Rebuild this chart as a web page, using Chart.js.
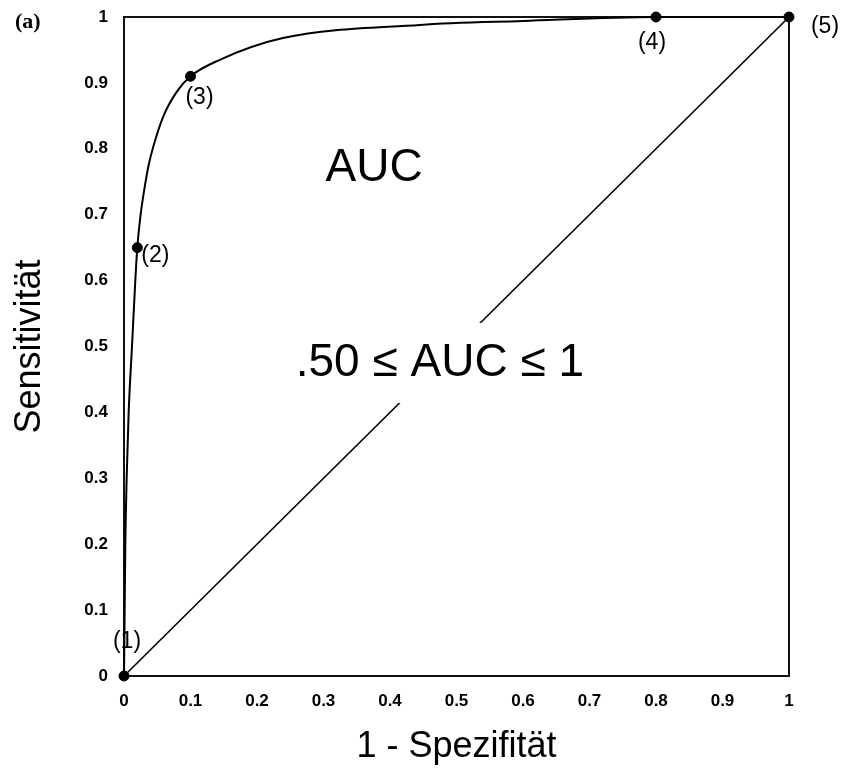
<!DOCTYPE html>
<html lang="de">
<head>
  <meta charset="UTF-8">
  <title>ROC-Kurve</title>
  <script src="https://cdn.jsdelivr.net/npm/chart.js"></script>
  <style>
    body {
      margin: 0;
      background: #fff;
    }
    #wrap {
      width: 841px;
      height: 769px;
      position: relative;
    }
  </style>
</head>
<body>
  <div id="wrap"><canvas id="rocChart" width="841" height="769"></canvas></div>

  <script>
    // ROC-Kurve
    const rocX = [0, 0.001, 0.002, 0.004, 0.007, 0.012, 0.017, 0.02, 0.025, 0.03, 0.037, 0.044, 0.059, 0.079, 0.1, 0.144, 0.239, 0.445, 0.6, 0.8, 1];
    const rocY = [0, 0.1, 0.2, 0.3, 0.4, 0.5, 0.6, 0.65, 0.7, 0.735, 0.775, 0.803, 0.849, 0.886, 0.91, 0.935, 0.968, 0.988, 0.994, 1, 1];

    // markierte Schwellenwerte (1)..(5)
    const cutX = [0, 0.02, 0.1, 0.8, 1];
    const cutY = [0, 0.65, 0.91, 1, 1];
    const cutLabels = ["(1)", "(2)", "(3)", "(4)", "(5)"];

    // Zufallsdiagonale
    const diagX = [0, 1];
    const diagY = [0, 1];

    const tickLabels = ["0", "0.1", "0.2", "0.3", "0.4", "0.5", "0.6", "0.7", "0.8", "0.9", "1"];
    const xTitle = "1 - Spezifität";
    const yTitle = "Sensitivität";
    const panelLabel = "(a)";
    const aucText = "AUC";
    const aucRange = ".50 \u2264 AUC \u2264 1";

    const toPoints = (xs, ys) => xs.map((x, i) => ({ x: x, y: ys[i] }));

    Chart.defaults.font.family = "'Liberation Sans', Arial, sans-serif";
    Chart.defaults.color = "#000";

    // Rahmen um die Zeichenfläche
    const framePlugin = {
      id: "frame",
      beforeDatasetsDraw(chart) {
        const { ctx, chartArea: a } = chart;
        ctx.save();
        ctx.strokeStyle = "#111";
        ctx.lineWidth = 2;
        ctx.strokeRect(a.left, a.top, a.right - a.left, a.bottom - a.top);
        ctx.restore();
      }
    };

    // Beschriftungen: Punktnummern, AUC-Texte, (a)
    const textPlugin = {
      id: "texts",
      afterDatasetsDraw(chart) {
        const { ctx, scales: { x, y } } = chart;
        const offsets = [[3, -34], [18, 8], [9, 21], [-4, 26], [36, 10]];
        ctx.save();
        ctx.fillStyle = "#000";
        ctx.textAlign = "center";
        ctx.textBaseline = "middle";
        ctx.font = "23px 'Liberation Sans', Arial, sans-serif";
        cutLabels.forEach((lab, i) => {
          ctx.fillText(lab, x.getPixelForValue(cutX[i]) + offsets[i][0], y.getPixelForValue(cutY[i]) + offsets[i][1]);
        });

        ctx.font = "46px 'Liberation Sans', Arial, sans-serif";
        ctx.fillText(aucText, x.getPixelForValue(0.376), y.getPixelForValue(0.771));

        const cx = x.getPixelForValue(0.475);
        const cy = y.getPixelForValue(0.475);
        const w = ctx.measureText(aucRange).width;
        ctx.fillStyle = "#fff";
        ctx.fillRect(cx - w / 2, cy - 40, w, 80);
        ctx.fillStyle = "#000";
        ctx.fillText(aucRange, cx, cy);

        ctx.textAlign = "left";
        ctx.font = "bold 22px 'Liberation Serif', 'Times New Roman', serif";
        ctx.fillText(panelLabel, 15, 22);
        ctx.restore();
      }
    };

    const tickFont = { size: 17, weight: "bold" };

    new Chart(document.getElementById("rocChart"), {
      type: "scatter",
      data: {
        datasets: [
          {
            label: "Diagonale",
            data: toPoints(diagX, diagY),
            showLine: true,
            borderColor: "#000",
            borderWidth: 1.6,
            pointRadius: 0,
            clip: false
          },
          {
            label: "ROC",
            data: toPoints(rocX, rocY),
            showLine: true,
            cubicInterpolationMode: "monotone",
            borderColor: "#000",
            borderWidth: 2,
            pointRadius: 0,
            clip: false
          },
          {
            label: "Schwellen",
            data: toPoints(cutX, cutY),
            showLine: false,
            pointRadius: 5,
            backgroundColor: "#000",
            borderColor: "#000",
            clip: false
          }
        ]
      },
      options: {
        responsive: false,
        animation: false,
        layout: { padding: { left: 0, right: 52, top: 17, bottom: 0 } },
        plugins: {
          legend: { display: false },
          tooltip: { enabled: false }
        },
        scales: {
          x: {
            type: "linear",
            min: 0,
            max: 1,
            grid: { display: false, drawTicks: false },
            border: { display: false },
            ticks: {
              stepSize: 0.1,
              padding: 15,
              maxRotation: 0,
              font: tickFont,
              callback: (v, i) => tickLabels[i]
            },
            title: {
              display: true,
              text: xTitle,
              font: { size: 36 },
              padding: { top: -3, bottom: 0 }
            },
            afterFit: (s) => { s.height = 93; }
          },
          y: {
            type: "linear",
            min: 0,
            max: 1,
            grid: { display: false, drawTicks: false },
            border: { display: false },
            ticks: {
              stepSize: 0.1,
              padding: 16,
              font: tickFont,
              callback: (v, i) => tickLabels[i]
            },
            title: {
              display: true,
              text: yTitle,
              font: { size: 36 },
              padding: { top: 8, bottom: 0 }
            },
            afterFit: (s) => {
              s.width = 124;
              s.paddingTop = 0;
              s.paddingBottom = 0;
            }
          }
        }
      },
      plugins: [framePlugin, textPlugin]
    });
  </script>
</body>
</html>
